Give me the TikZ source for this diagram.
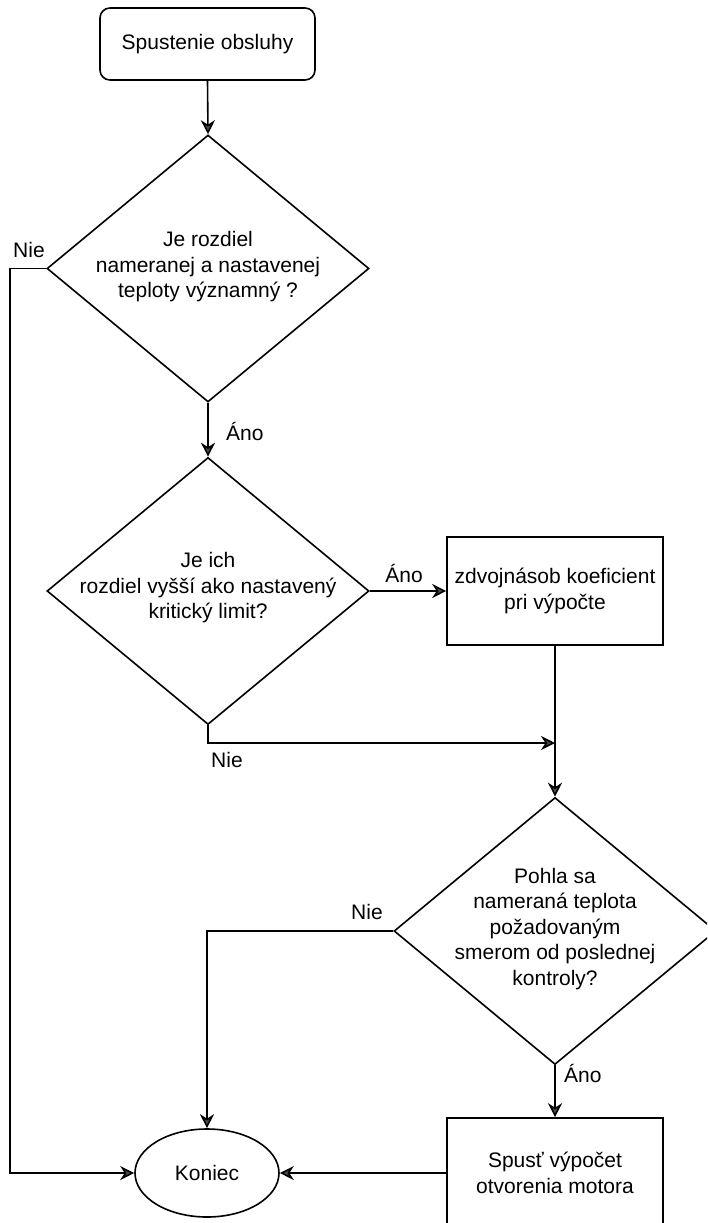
\documentclass[tikz,border=0pt]{standalone}
\usepackage{fontspec}
\setmainfont{Liberation Sans}
\usetikzlibrary{shapes.geometric,arrows.meta}
\tikzset{
  base/.style={draw=black, line width=1.6pt, fill=white, inner sep=0pt},
  startbox/.style={base, rounded corners=10pt, minimum width=215pt, minimum height=72pt},
  procbox/.style={base, minimum width=216pt, minimum height=108pt},
  decbox/.style={base, diamond, minimum width=322pt, minimum height=267pt},
  endell/.style={base, ellipse, minimum width=144pt, minimum height=88pt},
  txt/.style={inner sep=0pt, align=center, font=\fontsize{21}{25.5}\selectfont},
  lbl/.style={inner sep=0pt, font=\fontsize{21}{25.5}\selectfont},
  arr/.style={line width=1.6pt, draw=black, -{Stealth[length=14pt,width=14pt,inset=4.5pt,fill=black!70]}},
  ln/.style={line width=1.6pt, draw=black}
}
\begin{document}
\begin{tikzpicture}[x=1pt,y=-1pt]
\useasboundingbox (0,0) rectangle (707,1223);
\fill[white] (0,0) rectangle (707,1223);
\clip (0,0) rectangle (707,1223);

\node[startbox] (start) at (207.5,44) {};
\node[txt] (startt) at (start) {Spustenie obsluhy};

\node[decbox] (d1) at (208,268.5) {};
\node[txt] (d1t) at (208,267) {Je rozdiel\\nameranej a nastavenej\\teploty významný ?};

\node[decbox] (d2) at (208,591) {};
\node[txt] (d2t) at (208,588) {Je ich\\rozdiel vyšší ako nastavený\\kritický limit?};

\node[procbox] (r1) at (555,591) {};
\node[txt] (r1t) at (r1) {zdvojnásob koeficient\\pri výpočte};

\node[decbox] (d3) at (555,931) {};
\node[txt] (d3t) at (555,929) {Pohla sa\\nameraná teplota\\požadovaným\\smerom od poslednej\\kontroly?};

\node[procbox, minimum height=110pt] (r2) at (555,1173) {};
\node[txt] (r2t) at (r2) {Spusť výpočet\\otvorenia motora};

\node[endell] (end) at (207,1173) {};
\node[txt] (endt) at (end) {Koniec};

\coordinate (c1) at (10,268.5);
\coordinate (j1) at (555,743);

\draw[arr] (start.south) -- (d1.north);
\draw[arr] (d1.west) -- (c1) |- (end.west);
\draw[arr] (d1.south) -- (d2.north);
\draw[arr] (d2.east) -- (r1.west);
\draw[arr] (d2.south) |- (j1);
\draw[arr] (r1.south) -- (d3.north);
\draw[arr] (d3.west) -| (end.north);
\draw[arr] (d3.south) -- (r2.north);
\draw[arr] (r2.west) -- (end.east);

\node[lbl, anchor=west] (l1) at (13,250) {Nie};
\node[lbl, anchor=west] (l2) at (226,431) {Áno};
\node[lbl] (l3) at (404,573) {Áno};
\node[lbl, anchor=west] (l4) at (211,760) {Nie};
\node[lbl] (l5) at (367,912) {Nie};
\node[lbl, anchor=west] (l6) at (564,1073) {Áno};
\end{tikzpicture}
\end{document}
